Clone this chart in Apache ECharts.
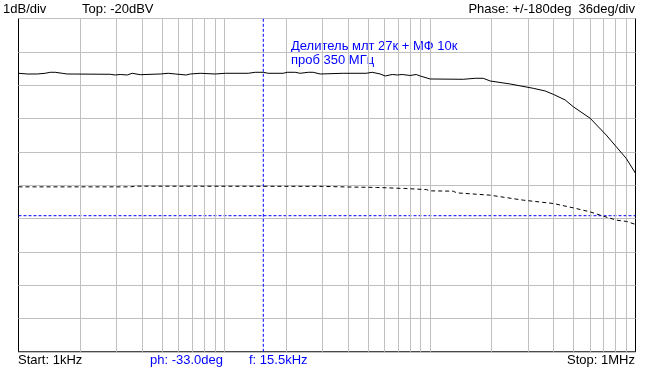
<!DOCTYPE html>
<html><head><meta charset="utf-8">
<script src="https://cdn.jsdelivr.net/npm/echarts@6/dist/echarts.min.js"></script>
<style>html,body{margin:0;padding:0;background:#fff;}#c{width:653px;height:369px;}</style>
</head><body><div id="c"></div>
<script>
// Magnitude trace (Hz, dBV)
const magFreq = [1000,1102,1233,1348,1426,1508,1631,1725,2792,2953,3122,3378,3571,3906,4887,5344,5780,6539,6837,7645,9045,10120,13090,14160,15480,16370,19360,20250,22150,23420,25620,27090,29310,37910,49050,52460,57360,60660,65610,69380,73370,80250,85830,89760,100400,145300,166200,181800,196600,245900,318100,363900,398000,455200,497800,602100,720200,805600,900600,1000000];
const magDb = [-21.644,-21.665,-21.665,-21.644,-21.614,-21.614,-21.644,-21.665,-21.674,-21.695,-21.68,-21.695,-21.644,-21.686,-21.665,-21.644,-21.665,-21.695,-21.665,-21.644,-21.665,-21.644,-21.644,-21.614,-21.614,-21.644,-21.644,-21.614,-21.614,-21.644,-21.614,-21.614,-21.665,-21.644,-21.644,-21.614,-21.665,-21.725,-21.68,-21.695,-21.68,-21.71,-21.68,-21.725,-21.815,-21.824,-21.794,-21.794,-21.875,-21.965,-22.094,-22.175,-22.274,-22.445,-22.646,-22.994,-23.495,-23.846,-24.194,-24.644];
// Phase trace (Hz, deg)
const phFreq = [1000,3500,3700,30000,40000,54960,56000,75620,77000,96330,100000,129900,135000,195900,284400,398000,497800,600200,697000,808800,903800,1000000];
const phDeg = [-1.84,-1.84,-1.1,-1.3,-2.0,-2.48,-3.56,-3.6,-4.64,-4.8,-6.16,-6.5,-8.32,-10.8,-16.2,-19.8,-24.5,-28.8,-33.5,-37.8,-39.2,-42.4];
// Grid / cursors
const gridFreqs = [2000,3000,4000,5000,6000,7000,8000,9000,10000,20000,30000,40000,50000,60000,70000,80000,90000,100000,200000,300000,400000,500000,600000,700000,800000,900000];
const cursorFreq = 15500;
const cursorPhase = -33;
const freqRange = [1000, 1000000];
const phaseRange = [-180, 180];
const topTexts = ['1dB/div', 'Top: -20dBV', 'Phase: +/-180deg  36deg/div'];
const bottomTexts = ['Start: 1kHz', 'ph: -33.0deg', 'f: 15.5kHz', 'Stop: 1MHz'];
const noteLines = ['Делитель млт 27к + МФ 10к', 'проб 350 МГц'];

const FONT = '"Liberation Sans", Arial, sans-serif';
const chart = echarts.init(document.getElementById('c'), null, {renderer: 'canvas'});
const txt = (x, y, t, align, color) => ({
  type: 'text', x: x, y: y, silent: true,
  style: {text: t, x: 0, y: 0, fill: color || '#000', font: '13px ' + FONT, textAlign: align || 'left', textVerticalAlign: 'bottom'}
});
const cursorSeries = (data) => ({type: 'line', yAxisIndex: 1, z: 3, symbol: 'none', silent: true,
  color: '#0000ff', lineStyle: {color: '#0000ff', width: 1, type: [3, 2]}, data: data});
chart.setOption({
  animation: false,
  backgroundColor: '#fff',
  grid: {left: 18.5, top: 18.5, width: 617, height: 333.3, show: true, borderColor: '#000', borderWidth: 1, backgroundColor: '#fff'},
  xAxis: {type: 'log', logBase: 10, min: freqRange[0], max: freqRange[1],
    axisLine: {show: false}, axisTick: {show: false}, axisLabel: {show: false}, splitLine: {show: false}},
  yAxis: [
    {type: 'value', min: -30, max: -20, interval: 1,
      axisLine: {show: false}, axisTick: {show: false}, axisLabel: {show: false},
      splitLine: {show: true, lineStyle: {color: '#c0c0c0', width: 1}}},
    {type: 'value', min: phaseRange[0], max: phaseRange[1], interval: 36, show: false, splitLine: {show: false}}
  ],
  series: [
    {type: 'line', name: 'grid', data: [], z: 1, silent: true,
      markLine: {silent: true, symbol: 'none', label: {show: false}, animation: false,
        lineStyle: {color: '#c0c0c0', width: 1, type: 'solid'},
        data: gridFreqs.map(f => ({xAxis: f}))}},
    cursorSeries([[cursorFreq, phaseRange[0]], [cursorFreq, phaseRange[1]]]),
    cursorSeries([[freqRange[0], cursorPhase], [freqRange[1], cursorPhase]]),
    {type: 'line', name: 'mag', yAxisIndex: 0, z: 5, symbol: 'none', silent: true,
      lineStyle: {color: '#000', width: 1},
      data: magFreq.map((f, i) => [f, magDb[i]])},
    {type: 'line', name: 'phase', yAxisIndex: 1, z: 5, symbol: 'none', silent: true,
      lineStyle: {color: '#000', width: 1, type: [4, 3]},
      data: phFreq.map((f, i) => [f, phDeg[i]])}
  ],
  graphic: [
    txt(3, 16, topTexts[0]),
    txt(82, 16, topTexts[1]),
    txt(635, 16, topTexts[2], 'right'),
    txt(18, 367, bottomTexts[0]),
    txt(150, 367, bottomTexts[1], 'left', '#0000ff'),
    txt(249, 367, bottomTexts[2], 'left', '#0000ff'),
    txt(635, 367, bottomTexts[3], 'right'),
    txt(291, 53, noteLines[0], 'left', '#0000ff'),
    txt(291, 67, noteLines[1], 'left', '#0000ff')
  ]
});
</script></body></html>
